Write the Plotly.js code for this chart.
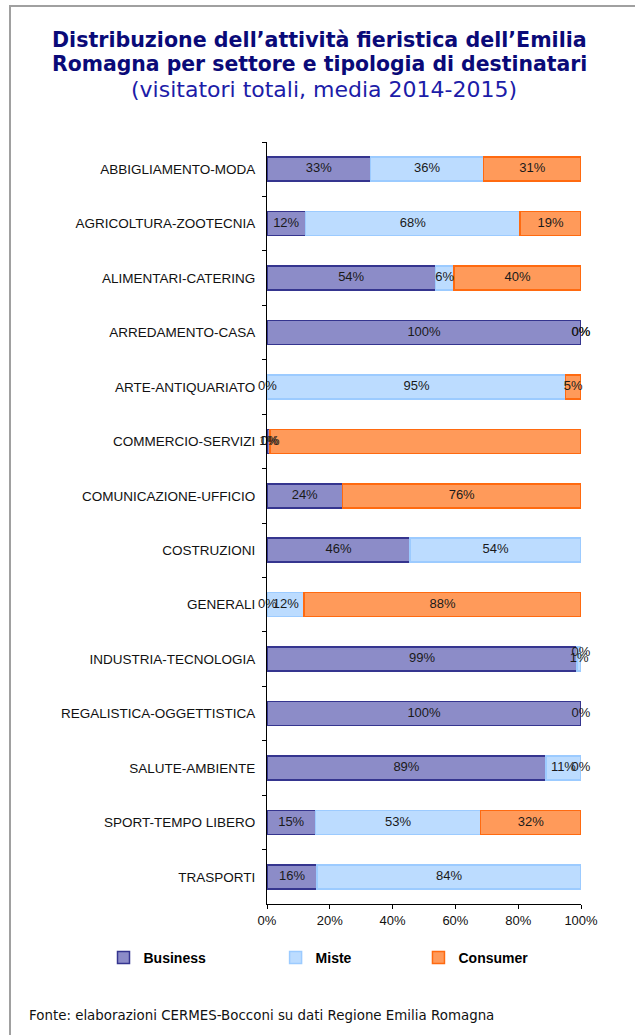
<!DOCTYPE html>
<html>
<head>
<meta charset="utf-8">
<script src="https://cdn.plot.ly/plotly-3.0.1.min.js"></script>
<style>
html,body{margin:0;padding:0;background:#fff;}
#wrap{position:relative;width:635px;height:1035px;overflow:hidden;}
#frameTop{position:absolute;left:9px;top:5px;width:626px;height:2px;background:#a0a0a0;}
#frameLeft{position:absolute;left:9px;top:5px;width:2px;height:1030px;background:#a0a0a0;}
#chart{position:absolute;left:0;top:0;width:635px;height:1035px;}
</style>
</head>
<body>
<div id="wrap">
<div id="chart"></div>
<div id="frameTop"></div>
<div id="frameLeft"></div>
</div>
<script>
// Categories (top to bottom)
const categories = [
  "ABBIGLIAMENTO-MODA","AGRICOLTURA-ZOOTECNIA","ALIMENTARI-CATERING","ARREDAMENTO-CASA",
  "ARTE-ANTIQUARIATO","COMMERCIO-SERVIZI","COMUNICAZIONE-UFFICIO","COSTRUZIONI",
  "GENERALI","INDUSTRIA-TECNOLOGIA","REGALISTICA-OGGETTISTICA","SALUTE-AMBIENTE",
  "SPORT-TEMPO LIBERO","TRASPORTI"
];
// Shares (%)
const business = [33.0, 12.2, 53.6, 100, 0.2, 1.0, 24.0, 45.6, 0.2, 98.8, 100, 88.8, 15.4, 16.0];
const miste    = [36.0, 68.4,  6.0,   0, 94.8, 0.0, 0.0, 54.4, 11.6, 1.2,   0, 11.2, 52.6, 84.0];
const consumer = [31.0, 19.4, 40.4,   0,  5.0, 99.0, 76.0, 0.0, 88.2, 0.0,   0,  0.0, 32.0, 0.0];
// Which labels are shown in the original
const showBusiness = [1,1,1,1,1,1,1,1,1,1,1,1,1,1];
const showMiste    = [1,1,1,1,1,1,0,1,1,1,0,1,1,1];
const showConsumer = [1,1,1,1,1,0,1,0,1,1,1,1,1,0];
// Label for INDUSTRIA-TECNOLOGIA consumer is placed above
const consumerLabelAbove = [0,0,0,0,0,0,0,0,0,1,0,0,0,0];
const seriesNames = ["Business","Miste","Consumer"];

const colBusiness = {fill:"#8c8cc8", line:"#35358f"};
const colMiste    = {fill:"#bcdcff", line:"#9ccbff"};
const colConsumer = {fill:"#ff9a5a", line:"#ff6a10"};

const FONT = "Liberation Sans, Arial, sans-serif";

function barTrace(name, vals, col, legendId){
  return {
    type:"bar", orientation:"h", name:name, x:vals, y:categories,
    marker:{color:col.fill, line:{color:col.line, width:vals.map(v=>v>0?1.5:0)}},
    legend:legendId, hoverinfo:"x+y"
  };
}
const traces = [
  barTrace(seriesNames[0], business, colBusiness, "legend"),
  barTrace(seriesNames[1], miste, colMiste, "legend2"),
  barTrace(seriesNames[2], consumer, colConsumer, "legend3")
];

// Text labels at the centre of each segment
const lx=[], ly=[], lt=[], lp=[];
categories.forEach((c,i)=>{
  const b=business[i], m=miste[i], s=consumer[i];
  if(showBusiness[i]){lx.push(b/2); ly.push(c); lt.push(Math.round(b)+"%"); lp.push("middle center");}
  if(showMiste[i]){lx.push(b+m/2); ly.push(c); lt.push(Math.round(m)+"%"); lp.push("middle center");}
  if(showConsumer[i]){lx.push(b+m+s/2); ly.push(c); lt.push(Math.round(s)+"%"); lp.push(consumerLabelAbove[i]?"top center":"middle center");}
});
traces.push({
  type:"scatter", mode:"text", x:lx, y:ly, text:lt, textposition:lp,
  textfont:{family:FONT, size:13, color:"#1a1a1a"},
  showlegend:false, hoverinfo:"skip", cliponaxis:false
});

function legendAt(x){
  return {
    orientation:"h", x:x, xanchor:"left", xref:"container", y:0.0744, yanchor:"middle", yref:"container",
    font:{family:FONT, size:14, color:"#000", weight:"bold"}, itemwidth:30, bgcolor:"rgba(0,0,0,0)"
  };
}

const titleFont = "DejaVu Sans, Verdana, sans-serif";
const tx = 0.168;
const layout = {
  width:635, height:1035,
  margin:{l:267, r:54, t:142, b:131},
  paper_bgcolor:"#ffffff", plot_bgcolor:"#ffffff",
  barmode:"stack", bargap:0.56,
  font:{family:FONT, size:13, color:"#111"},
  xaxis:{
    range:[0,100], tickvals:[0,20,40,60,80,100], ticktext:["0%","20%","40%","60%","80%","100%"],
    showgrid:false, zeroline:false, showline:true, linecolor:"#000", linewidth:1,
    ticks:"outside", ticklen:4, tickcolor:"#000",
    tickfont:{family:FONT, size:13, color:"#111"}, fixedrange:true
  },
  yaxis:{
    type:"category", autorange:false, range:[13.5,-0.5],
    showgrid:false, zeroline:false, showline:true, linecolor:"#000", linewidth:1,
    ticks:"outside", ticklen:4, tickcolor:"#000", tickson:"boundaries", ticklabelstandoff:8,
    tickfont:{family:FONT, size:13.5, color:"#111"}, fixedrange:true
  },
  showlegend:true,
  legend:legendAt(0.163),
  legend2:legendAt(0.434),
  legend3:legendAt(0.659),
  annotations:[
    {text:"<b>Distribuzione dell’attività fieristica dell’Emilia</b>", xref:"paper", yref:"paper",
     x:tx, y:(904-40)/762, xanchor:"center", yanchor:"middle", showarrow:false,
     font:{family:titleFont, size:20.6, color:"#0a0a78"}},
    {text:"<b>Romagna per settore e tipologia di destinatari</b>", xref:"paper", yref:"paper",
     x:tx, y:(904-64)/762, xanchor:"center", yanchor:"middle", showarrow:false,
     font:{family:titleFont, size:20.4, color:"#0a0a78"}},
    {text:"(visitatori totali, media 2014-2015)", xref:"paper", yref:"paper",
     x:(324-267)/314, y:(904-89)/762, xanchor:"center", yanchor:"middle", showarrow:false,
     font:{family:titleFont, size:22, color:"#1c1ca8"}},
    {text:"Fonte: elaborazioni CERMES-Bocconi su dati Regione Emilia Romagna",
     xref:"paper", yref:"paper", x:(27-267)/314, y:(904-1015)/762, xanchor:"left", yanchor:"middle", showarrow:false,
     font:{family:titleFont, size:13.4, color:"#111"}}
  ]
};

Plotly.newPlot("chart", traces, layout, {displayModeBar:false, staticPlot:true});
</script>
</body>
</html>
